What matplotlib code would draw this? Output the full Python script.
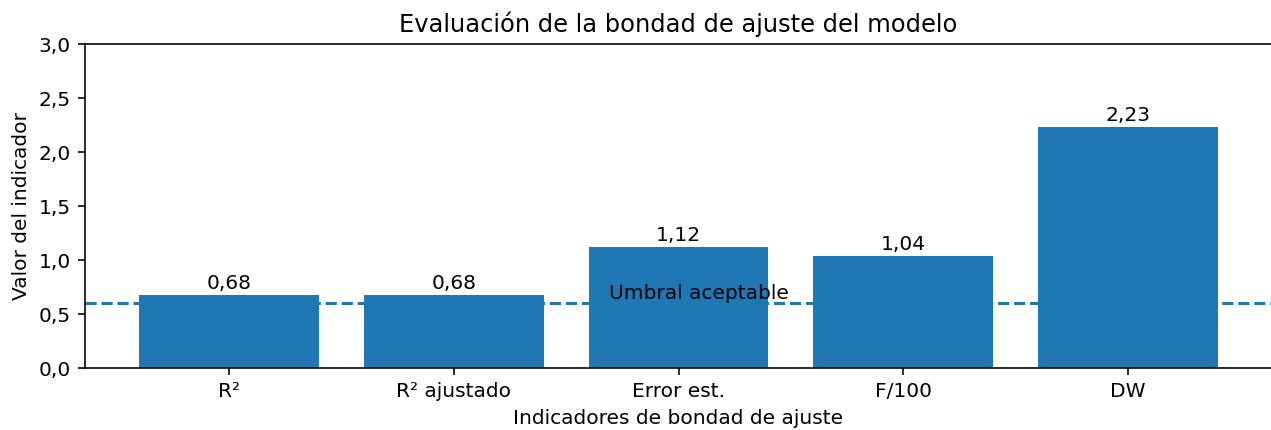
import matplotlib
matplotlib.use("Agg")
import matplotlib.pyplot as plt
from matplotlib.ticker import FuncFormatter

categories = ["R²", "R² ajustado", "Error est.", "F/100", "DW"]
values = [0.68, 0.68, 1.12, 1.04, 2.23]
threshold = 0.6
threshold_label = "Umbral aceptable"
yticks = [0.0, 0.5, 1.0, 1.5, 2.0, 2.5, 3.0]

W, H = 1271, 430
DPI = 145
fig = plt.figure(figsize=(W / DPI, H / DPI), dpi=DPI)
ax = fig.add_axes([85 / W, 1 - 368 / H, (1272 - 85) / W, (368 - 44) / H])

color = "#1f77b4"
x = list(range(len(categories)))
bars = ax.bar(x, values, width=0.8, color=color, zorder=2)
ax.axhline(threshold, color=color, linestyle="--", linewidth=1.5, zorder=1)
ax.text(2.09, threshold + 0.09, threshold_label, ha="center", va="center",
        fontsize=10, zorder=3)

labels = [f"{v:.2f}".replace(".", ",") for v in values]
ax.bar_label(bars, labels=labels, padding=1, fontsize=10)

ax.set_xticks(x)
ax.set_xticklabels(categories)
ax.set_yticks(yticks)
ax.set_ylim(0, 3.0)
ax.yaxis.set_major_formatter(FuncFormatter(lambda v, p: f"{v:.1f}".replace(".", ",")))
ax.set_xlabel("Indicadores de bondad de ajuste")
ax.set_ylabel("Valor del indicador")
ax.set_title("Evaluación de la bondad de ajuste del modelo")
# the reference image is cropped just before the right spine
ax.spines["right"].set_visible(False)

fig.savefig("out.png", dpi=DPI)
